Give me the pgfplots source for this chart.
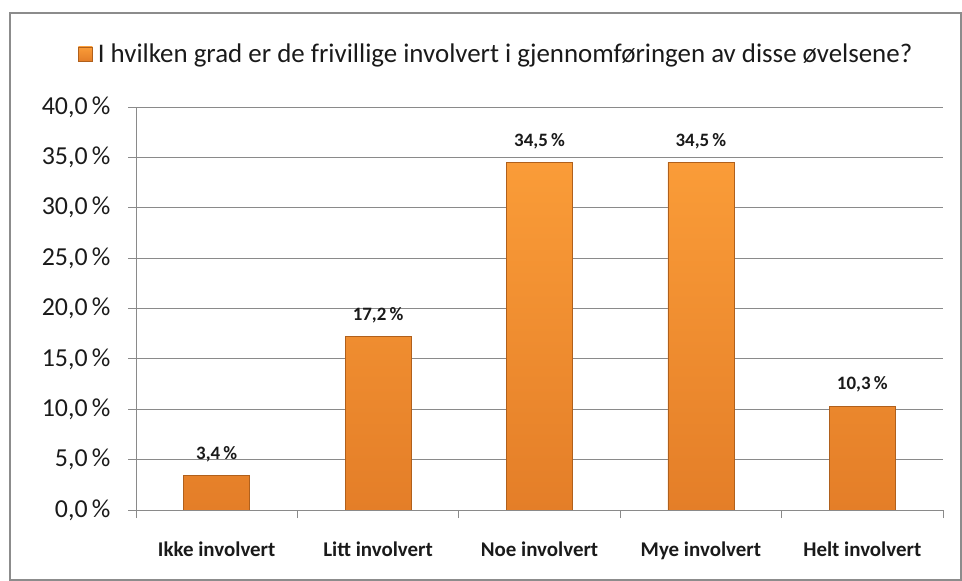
\documentclass[border=0pt]{standalone}
\usepackage{fontspec}
\setmainfont{Carlito}
\usepackage{pgfplots}
\pgfplotsset{compat=1.18}
\definecolor{barTop}{HTML}{FA9C38}
\definecolor{barBot}{HTML}{E47E28}
\definecolor{barEdge}{HTML}{B0601C}
\definecolor{legFill}{HTML}{F08A2C}
\definecolor{frameGray}{HTML}{8C8C8C}
\definecolor{gridGray}{HTML}{8A8A8A}
\definecolor{txt}{HTML}{1A1A1A}
\begin{document}
\begin{tikzpicture}
\path[use as bounding box] (0bp,0bp) rectangle (962bp,581bp);
\draw[line width=1.5bp, frameGray] (10bp,1bp) rectangle (961bp,568bp);
\begin{axis}[
  at={(136bp,71bp)}, anchor=south west,
  scale only axis, width=807bp, height=403bp,
  xmin=-0.5, xmax=4.5, ymin=0, ymax=40,
  axis x line*=bottom, axis y line*=left,
  axis line style={gridGray, line width=0.8bp},
  ytick={0,5,...,40},
  ymajorgrids, major grid style={gridGray, line width=0.8bp},
  tick align=outside,
  major tick length=8bp,
  y tick style={gridGray, line width=0.8bp},
  yticklabel={\pgfmathprintnumber[fixed,fixed zerofill,precision=1,use comma]{\tick}\,\%},
  /pgf/number format/assume math mode=true,
  yticklabel style={font=\fontsize{26}{30}\selectfont, text=txt, xshift=-14bp},
  xtick={0,1,2,3,4},
  xticklabels={Ikke involvert, Litt involvert, Noe involvert, Mye involvert, Helt involvert},
  major x tick style={draw=none},
  minor xtick={-0.5,0.5,1.5,2.5,3.5,4.5},
  minor tick length=8bp,
  minor x tick style={gridGray, line width=0.8bp},
  xticklabel style={font=\bfseries\fontsize{21}{24}\selectfont, text=txt, yshift=-20bp},
  legend style={at={(axis description cs:0,1)}, anchor=west, xshift=-58bp, yshift=53bp,
    draw=none, fill=none, inner sep=0pt, font=\fontsize{27}{31}\selectfont, text=txt,
    /tikz/every even column/.append style={column sep=0pt}},
  legend image code/.code={\fill[legFill, draw=barEdge, line width=0.5bp] (0bp,-7bp) rectangle (14bp,7bp); \path (17bp,0bp);},
  nodes near coords={\pgfmathprintnumber[fixed,fixed zerofill,precision=1,use comma]{\pgfplotspointmeta}\,\%},
  nodes near coords style={font=\bfseries\fontsize{19}{22}\selectfont, text=txt, yshift=10bp},
]
\addplot[ybar, bar width=66bp, top color=barTop, bottom color=barBot, draw=barEdge, line width=0.8bp]
  coordinates {(0,3.4) (1,17.2) (2,34.5) (3,34.5) (4,10.3)};
\addlegendentry{I hvilken grad er de frivillige involvert i gjennomføringen av disse øvelsene?}
\end{axis}
\end{tikzpicture}
\end{document}
